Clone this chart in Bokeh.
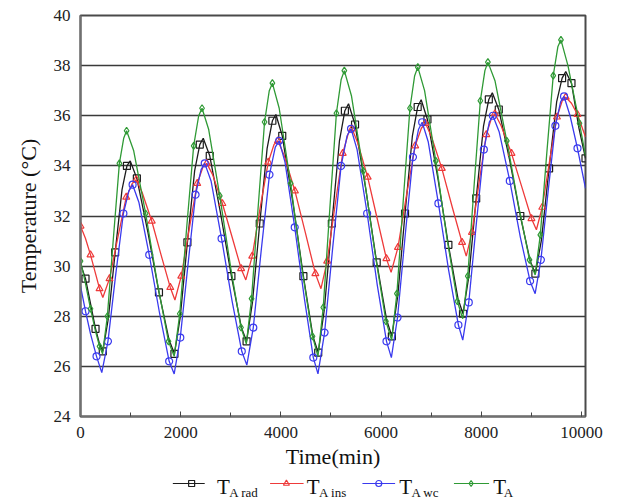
from bokeh.plotting import figure
from bokeh.models import Range1d, SingleIntervalTicker, ColumnDataSource
from bokeh.layouts import column
from bokeh.embed import file_html
from bokeh.resources import INLINE
from bokeh.core.properties import value

# ---------------- data ----------------
time_rad = [0, 100, 200, 300, 380, 445,
            555, 692, 829, 927, 993, 1125, 1346, 1566, 1769, 1875,
            1990, 2134, 2278, 2381, 2450, 2580, 2796, 3012, 3211, 3315,
            3432, 3578, 3725, 3830, 3900, 4027, 4238, 4449, 4639, 4745,
            4866, 5017, 5169, 5277, 5350, 5480, 5696, 5912, 6111, 6215,
            6332, 6478, 6625, 6730, 6800, 6925, 7134, 7343, 7535, 7635,
            7752, 7898, 8045, 8150, 8220, 8349, 8564, 8779, 8977, 9080,
            9201, 9353, 9504, 9613, 9686, 9800, 9950, 10080]
temp_rad = [30.1, 29.5, 28.5, 27.5, 26.9, 26.6,
            27.9, 30.55, 33.05, 34.0, 34.2, 33.5, 31.35, 28.95, 27.05, 26.5,
            27.95, 30.95, 33.8, 34.85, 35.1, 34.4, 32.1, 29.6, 27.55, 27.0,
            28.55, 31.7, 34.7, 35.8, 36.05, 35.2, 32.55, 29.6, 27.2, 26.55,
            28.25, 31.7, 35.0, 36.2, 36.48, 35.65, 33.05, 30.15, 27.85, 27.2,
            28.8, 32.1, 35.2, 36.35, 36.64, 35.85, 33.5, 30.85, 28.7, 28.1,
            29.6, 32.7, 35.6, 36.65, 36.92, 36.25, 34.25, 32.0, 30.2, 29.7,
            31.05, 33.9, 36.55, 37.5, 37.76, 37.3, 35.5, 34.3]

time_ins = [0, 100, 200, 300, 380, 446,
            579, 746, 913, 1033, 1113, 1229, 1422, 1615, 1792, 1885,
            2012, 2171, 2330, 2444, 2520, 2637, 2832, 3027, 3206, 3300,
            3428, 3588, 3748, 3863, 3940, 4068, 4280, 4493, 4688, 4800,
            4924, 5079, 5234, 5346, 5420, 5537, 5732, 5927, 6106, 6200,
            6337, 6509, 6680, 6804, 6886, 7008, 7212, 7421, 7616, 7700,
            7814, 7957, 8100, 8203, 8272, 8396, 8603, 8810, 9001, 9100,
            9217, 9364, 9510, 9616, 9686, 9800, 9920, 10080]
temp_ins = [31.6, 31.1, 30.45, 29.7, 29.1, 28.75,
            29.5, 31.15, 32.75, 33.3, 33.45, 32.95, 31.8, 30.4, 29.15, 28.65,
            29.6, 31.5, 33.3, 33.95, 34.1, 33.65, 32.5, 31.15, 29.9, 29.45,
            30.4, 32.35, 34.15, 34.85, 35.0, 34.4, 33.0, 31.3, 29.7, 29.1,
            30.2, 32.4, 34.5, 35.3, 35.48, 34.9, 33.55, 31.85, 30.3, 29.75,
            30.75, 32.85, 34.8, 35.5, 35.7, 35.15, 33.9, 32.35, 30.95, 30.4,
            31.35, 33.35, 35.25, 35.9, 36.08, 35.6, 34.5, 33.15, 31.9, 31.45,
            32.35, 34.2, 35.95, 36.6, 36.74, 36.5, 36.05, 35.15]

time_wc = [0, 100, 200, 320, 425,
           548, 702, 856, 966, 1040, 1165, 1372, 1580, 1770, 1870,
           1992, 2145, 2297, 2407, 2480, 2606, 2816, 3026, 3219, 3320,
           3449, 3611, 3772, 3888, 3966, 4082, 4276, 4469, 4647, 4740,
           4872, 5037, 5202, 5321, 5400, 5521, 5722, 5923, 6108, 6205,
           6328, 6482, 6636, 6746, 6820, 6942, 7144, 7347, 7543, 7630,
           7750, 7901, 8051, 8160, 8232, 8358, 8569, 8780, 8974, 9075,
           9190, 9335, 9479, 9583, 9652, 9772, 9920, 10080]
temp_wc = [29.2, 28.2, 27.3, 26.4, 25.75,
           27.0, 29.65, 32.1, 33.0, 33.25, 32.55, 30.45, 28.1, 26.2, 25.7,
           27.15, 30.05, 32.85, 33.85, 34.1, 33.4, 31.1, 28.6, 26.6, 26.05,
           27.55, 30.7, 33.65, 34.75, 35.0, 34.15, 31.55, 28.7, 26.35, 25.7,
           27.35, 30.8, 34.0, 35.2, 35.48, 34.65, 32.1, 29.25, 27.0, 26.35,
           27.95, 31.25, 34.35, 35.45, 35.74, 34.95, 32.5, 29.85, 27.65, 27.05,
           28.55, 31.7, 34.65, 35.75, 36.0, 35.35, 33.4, 31.15, 29.4, 28.9,
           30.25, 33.0, 35.6, 36.55, 36.77, 36.0, 34.7, 33.1]

time_a = [0, 100, 200, 300, 380, 440,
          536, 656, 776, 862, 920, 1062, 1300, 1537, 1756, 1870,
          1981, 2120, 2259, 2359, 2426, 2559, 2780, 3001, 3204, 3310,
          3414, 3544, 3674, 3768, 3830, 3966, 4194, 4421, 4631, 4740,
          4845, 4977, 5108, 5203, 5266, 5408, 5644, 5880, 6097, 6210,
          6315, 6445, 6576, 6670, 6733, 6868, 7092, 7316, 7522, 7630,
          7730, 7856, 7981, 8072, 8132, 8273, 8509, 8745, 8962, 9075,
          9178, 9307, 9436, 9528, 9590, 9730, 9960, 10080]
temp_a = [30.2, 29.3, 28.3, 27.4, 26.8, 26.5,
          28.0, 31.1, 34.1, 35.1, 35.4, 34.6, 32.1, 29.3, 27.0, 26.4,
          28.1, 31.55, 34.8, 36.0, 36.3, 35.45, 32.8, 29.9, 27.55, 26.9,
          28.7, 32.3, 35.75, 37.0, 37.3, 36.3, 33.3, 29.9, 27.2, 26.4,
          28.35, 32.3, 36.1, 37.45, 37.8, 36.8, 33.8, 30.5, 27.8, 27.05,
          28.9, 32.7, 36.3, 37.6, 37.94, 37.0, 34.2, 31.1, 28.6, 27.9,
          29.6, 33.2, 36.6, 37.8, 38.14, 37.4, 35.0, 32.4, 30.25, 29.65,
          31.25, 34.5, 37.6, 38.75, 39.03, 38.0, 35.7, 34.4]

x_ticks_major = 2000
y_ticks = [24, 26, 28, 30, 32, 34, 36, 38, 40]

series_names = ["A rad", "A ins", "A wc", "A"]
colors = ["#1c1c1c", "#ee3a3a", "#3a3aee", "#2f9a35"]

FONT = "Liberation Serif"

# ---------------- main plot ----------------
p = figure(width=618, height=472, output_backend="svg", toolbar_location=None,
           x_range=Range1d(0, 10080), y_range=Range1d(24, 40),
           min_border_left=80, min_border_right=33, min_border_top=15,
           min_border_bottom=56, background_fill_color="white",
           border_fill_color="white")

p.xaxis.ticker = SingleIntervalTicker(interval=x_ticks_major, num_minor_ticks=2)
p.yaxis.ticker = y_ticks
p.xgrid.visible = False
p.ygrid.grid_line_color = "#3a3a3a"
p.ygrid.grid_line_width = 1.7

for ax in (p.xaxis[0], p.yaxis[0]):
    ax.axis_line_color = "#707070"
    ax.axis_line_width = 2
    ax.major_tick_line_color = "#444444"
    ax.minor_tick_line_color = "#444444"
    ax.major_tick_out = 0
    ax.minor_tick_out = 0
    ax.major_label_text_font = FONT
    ax.major_label_text_font_size = "17px"
    ax.major_label_text_color = "#222222"
    ax.axis_label_text_font = FONT
    ax.axis_label_text_font_size = "22px"
    ax.axis_label_text_font_style = "normal"
    ax.axis_label_text_color = "#111111"

p.xaxis.major_tick_in = 5
p.xaxis.minor_tick_in = 4
p.xaxis.major_label_standoff = 10
p.xaxis.axis_label = "Time(min)"
p.xaxis.axis_label_standoff = 3

p.yaxis.major_tick_in = 0
p.yaxis.minor_tick_in = 0
p.yaxis.major_label_standoff = 10
p.yaxis.axis_label = "Temperature (°C)"
p.yaxis.axis_label_standoff = 10

p.outline_line_color = "#4a4a4a"
p.outline_line_width = 2

times = [time_rad, time_ins, time_wc, time_a]
temps = [temp_rad, temp_ins, temp_wc, temp_a]
markers = ["square", "triangle", "circle", "diamond"]
msizes = [7, 7, 7, 7]
starts = [1, 0, 1, 0]

for t, v, c, m, ms, s0 in zip(times, temps, colors, markers, msizes, starts):
    src = ColumnDataSource(dict(t=t, v=v))
    p.line("t", "v", source=src, line_color=c, line_width=1.3)
    msrc = ColumnDataSource(dict(t=t[s0::2], v=v[s0::2]))
    p.scatter("t", "v", source=msrc, marker=m, size=ms, line_color=c,
              line_width=1.2, fill_color=None)

# ---------------- legend strip ----------------
LH = 29
lg = figure(width=618, height=LH, output_backend="svg", toolbar_location=None,
            x_range=Range1d(0, 618), y_range=Range1d(0, LH),
            x_axis_location=None, y_axis_location=None, min_border=0)
lg.grid.visible = False
lg.outline_line_color = None

leg_x0 = [113, 232, 345, 457]
leg_x1 = [152, 273, 385, 500]
leg_xm = [136, 252, 365, 478]
leg_xt = [167, 277, 390, 505]
leg_xs = [182, 292, 405, 518]
leg_y = [18, 18, 18, 18]

lg.segment(x0=leg_x0, y0=leg_y, x1=leg_x1, y1=leg_y, line_color=colors, line_width=1.2)
for xm, c, m in zip(leg_xm, colors, markers):
    lg.scatter([xm], [18], marker=m, size=6, line_color=c, line_width=1.2, fill_color=None)
lg.text(x=leg_xt, y=[15] * 4, text=["T"] * 4, text_font=value(FONT),
        text_font_size="21px", text_color="#111111", text_baseline="middle")
lg.text(x=leg_xs, y=[9] * 4, text=series_names, text_font=value(FONT),
        text_font_size="13px", text_color="#111111", text_baseline="middle")

layout = column(p, lg, spacing=0)
open("out.html", "w").write(file_html(layout, INLINE))
